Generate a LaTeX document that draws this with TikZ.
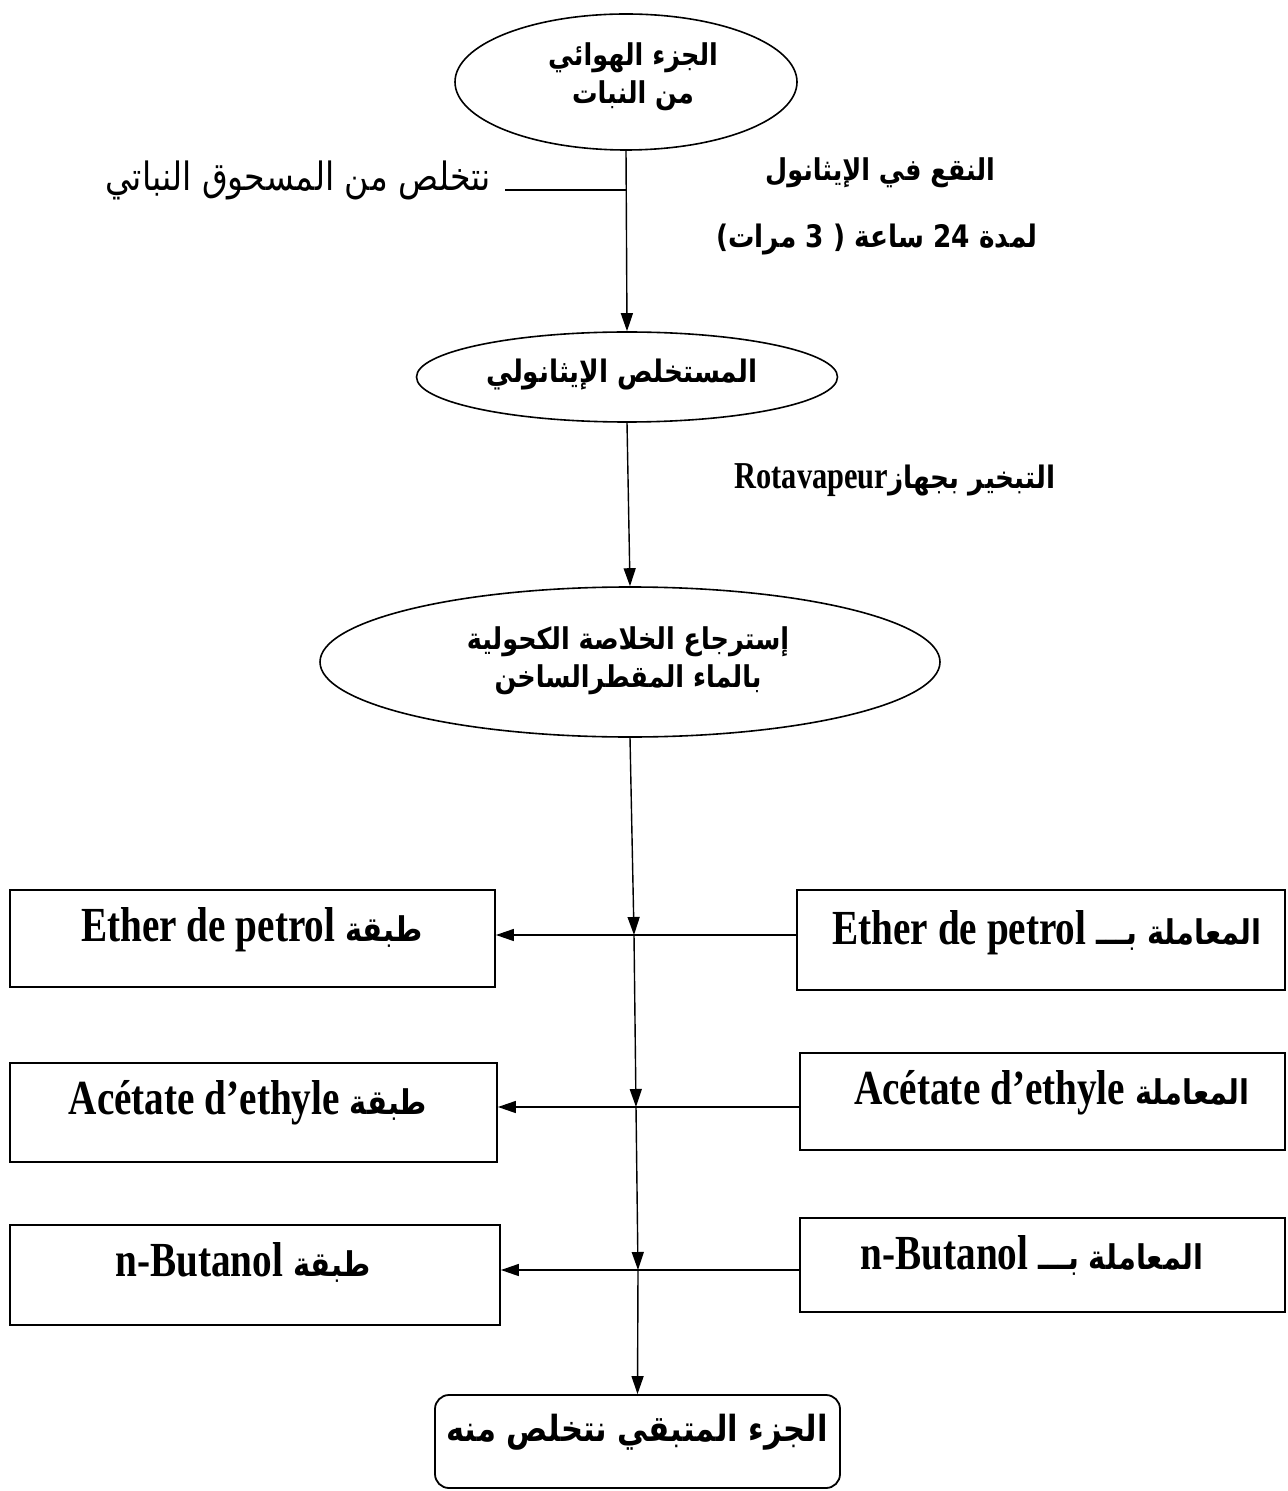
\documentclass[tikz,border=0pt]{standalone}
\usepackage{fontspec}
\usetikzlibrary{shapes.geometric,arrows.meta}
\TeXXeTstate=1
\newfontfamily\arabfont[Script=Arabic,FakeStretch=0.85]{DejaVu Sans}
\newfontfamily\latfont[FakeStretch=0.8]{Liberation Serif}
\newcommand\AR[1]{\beginR #1\endR}
\newcommand\LT[1]{\beginL{\latfont\bfseries #1}\endL}
\tikzset{
  ell/.style={ellipse,draw,line width=0.8pt,inner sep=0pt},
  boxx/.style={rectangle,draw,line width=0.9pt,inner sep=0pt},
  lbl/.style={inner sep=0pt,font=\arabfont\bfseries},
  conn/.style={line width=0.7pt},
  arr/.style={line width=0.7pt,-{Triangle[length=9pt,width=6pt]}}
}
\begin{document}
\begin{tikzpicture}[x=0.5pt,y=-0.5pt]
\useasboundingbox[fill=white] (0,0) rectangle (1287,1491);
% ellipses
\node[ell,minimum width=171pt,minimum height=68pt] (e1) at (626,82) {};
\node[lbl,font=\arabfont\bfseries\fontsize{15}{18}\selectfont,align=center] (t1) at (633,77) {\AR{الجزء الهوائي}\\[1pt]\AR{من النبات}};
\node[ell,minimum width=210.5pt,minimum height=45pt] (e2) at (627,377) {};
\node[lbl,font=\arabfont\bfseries\fontsize{15.5}{18}\selectfont] (t2) at (622,375) {\AR{المستخلص الإيثانولي}};
\node[ell,minimum width=310pt,minimum height=75pt] (e3) at (630,662) {};
\node[lbl,font=\arabfont\bfseries\fontsize{15}{18}\selectfont,align=center] (t3) at (628,661) {\AR{إسترجاع الخلاصة الكحولية}\\[1pt]\AR{بالماء المقطرالساخن}};
% side texts
\node[inner sep=0pt,font=\arabfont\fontsize{19.5}{22}\selectfont] (s1) at (298,180) {\AR{نتخلص من  المسحوق النباتي}};
\node[lbl,font=\arabfont\bfseries\fontsize{15}{18}\selectfont] (s2) at (880,173) {\AR{النقع في الإيثانول}};
\node[lbl,font=\arabfont\bfseries\fontsize{15.5}{18}\selectfont] (s3) at (877,240) {\AR{لمدة 24 ساعة ( 3 مرات)}};
\node[lbl,font=\arabfont\bfseries\fontsize{15.5}{18}\selectfont] (s4) at (895,480) {\AR{التبخير بجهاز\LT{\fontsize{19}{22}\selectfont Rotavapeur}}};
% boxes
\node[boxx,minimum width=242.5pt,minimum height=48.5pt] (L1) at (252.5,938.5) {};
\node[boxx,minimum width=243.5pt,minimum height=49.5pt] (L2) at (253.5,1112.5) {};
\node[boxx,minimum width=245pt,minimum height=50pt] (L3) at (255,1275) {};
\node[boxx,minimum width=244pt,minimum height=50pt] (R1) at (1041,940) {};
\node[boxx,minimum width=242.5pt,minimum height=48.5pt] (R2) at (1042.5,1101.5) {};
\node[boxx,minimum width=242.5pt,minimum height=47pt] (R3) at (1042.5,1265) {};
\node[boxx,rounded corners=7pt,minimum width=202.5pt,minimum height=46.5pt] (F) at (637.5,1441.5) {};
% box texts
\node[lbl,font=\arabfont\bfseries\fontsize{17}{20}\selectfont] (l1) at (252,930) {\AR{طبقة \LT{\fontsize{24.5}{27}\selectfont Ether de petrol}}};
\node[lbl,font=\arabfont\bfseries\fontsize{17}{20}\selectfont] (l2) at (248,1103) {\AR{طبقة \LT{\fontsize{24.5}{27}\selectfont Acétate d’ethyle}}};
\node[lbl,font=\arabfont\bfseries\fontsize{17}{20}\selectfont] (l3) at (243,1262) {\AR{طبقة \LT{\fontsize{24.5}{27}\selectfont n-Butanol}}};
\node[lbl,font=\arabfont\bfseries\fontsize{17}{20}\selectfont] (r1) at (1047,933) {\AR{المعاملة بـــ \LT{\fontsize{24.5}{27}\selectfont Ether de petrol}}};
\node[lbl,font=\arabfont\bfseries\fontsize{17}{20}\selectfont] (r2) at (1052,1093) {\AR{المعاملة \LT{\fontsize{24.5}{27}\selectfont Acétate d’ethyle}}};
\node[lbl,font=\arabfont\bfseries\fontsize{17}{20}\selectfont] (r3) at (1032,1255) {\AR{المعاملة بـــ \LT{\fontsize{24.5}{27}\selectfont n-Butanol}}};
\node[lbl,font=\arabfont\bfseries\fontsize{18}{21}\selectfont] (f1) at (637,1432) {\AR{الجزء المتبقي نتخلص منه}};
% connectors
\coordinate (br) at (626,190);
\coordinate (bre) at (505,190);
\draw[arr] (e1.south) -- (e2.north);
\draw[conn] (br) -- (bre);
\draw[arr] (e2.south) -- (e3.north);
\coordinate (a1) at (634,935);
\coordinate (a2) at (636,1107);
\coordinate (a3) at (638,1270);
\draw[arr] (e3.south) -- (a1);
\draw[arr] (a1) -- (a2);
\draw[arr] (a2) -- (a3);
\draw[arr] (a3) -- (F.north);
\draw[arr] (R1.west |- a1) -- (L1.east |- a1);
\draw[arr] (R2.west |- a2) -- (L2.east |- a2);
\draw[arr] (R3.west |- a3) -- (L3.east |- a3);
\end{tikzpicture}
\end{document}
